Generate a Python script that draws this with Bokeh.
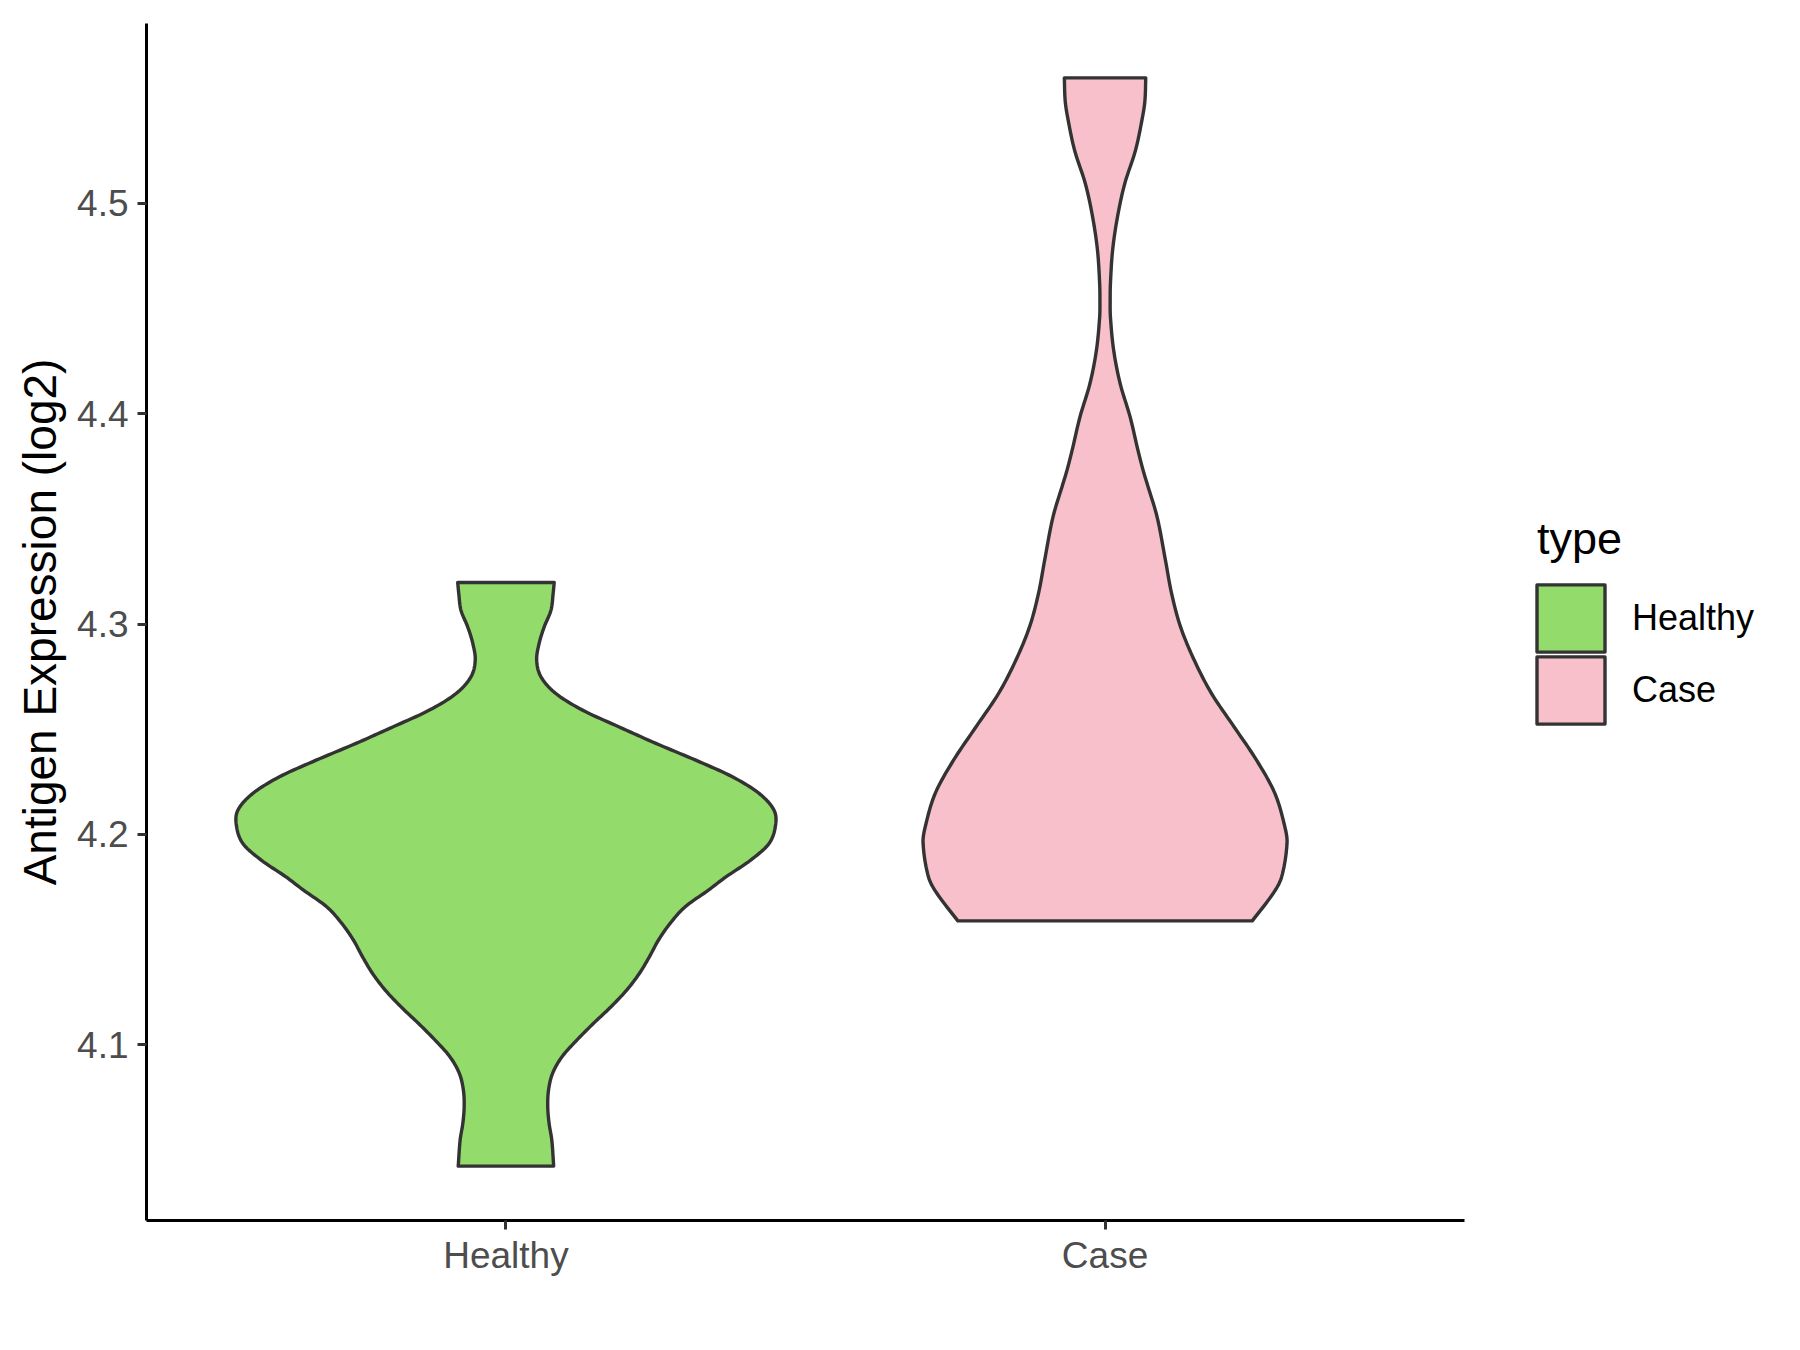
import numpy as np
from bokeh.plotting import figure
from bokeh.layouts import row
from bokeh.models import Range1d, FixedTicker, Legend, LegendItem
from bokeh.embed import file_html
from bokeh.resources import INLINE

# ---- data ----
CATEGORIES = ["Healthy", "Case"]
FILL_COLORS = ["#93DB6B", "#F7C0CB"]

# violin outline: y values and scaled density (max = 1 over both groups)
HEALTHY_Y = [4.3198, 4.3145, 4.3066, 4.2987, 4.2908, 4.2828, 4.2749, 4.2670, 4.2591,
             4.2511, 4.2433, 4.2353, 4.2274, 4.2195, 4.2116, 4.2044, 4.1957, 4.1878,
             4.1798, 4.1735, 4.1656, 4.1577, 4.1498, 4.1418, 4.1339, 4.1260, 4.1181,
             4.1102, 4.1022, 4.0943, 4.0864, 4.0785, 4.0705, 4.0626, 4.0547, 4.0423]
HEALTHY_D = [0.179, 0.175, 0.167, 0.142, 0.123, 0.114, 0.130, 0.185, 0.284,
             0.420, 0.556, 0.704, 0.840, 0.939, 0.994, 1.000, 0.976, 0.908,
             0.816, 0.751, 0.665, 0.609, 0.566, 0.532, 0.495, 0.448, 0.390,
             0.325, 0.263, 0.208, 0.173, 0.158, 0.155, 0.160, 0.170, 0.177]

CASE_Y = [4.5597, 4.5490, 4.5411, 4.5253, 4.5094, 4.4935, 4.4777, 4.4619, 4.4539,
          4.4460, 4.4302, 4.4144, 4.3985, 4.3827, 4.3732, 4.3668, 4.3510, 4.3304,
          4.3145, 4.2987, 4.2828, 4.2670, 4.2511, 4.2353, 4.2195, 4.2036, 4.1957,
          4.1798, 4.1720, 4.1589]
CASE_D = [0.151, 0.148, 0.139, 0.113, 0.073, 0.046, 0.028, 0.020, 0.019,
          0.020, 0.032, 0.056, 0.093, 0.122, 0.141, 0.156, 0.193, 0.224,
          0.247, 0.280, 0.331, 0.395, 0.479, 0.562, 0.630, 0.667, 0.675,
          0.655, 0.624, 0.546]

Y_TICKS = [4.1, 4.2, 4.3, 4.4, 4.5]
Y_TICK_LABELS = ["4.1", "4.2", "4.3", "4.4", "4.5"]
Y_TITLE = "Antigen Expression (log2)"
LEGEND_TITLE = "type"

FONT = "Liberation Sans"
HALF_WIDTH = 0.45  # violin width 0.9
OUTLINE = "#333333"
OUTLINE_W = 3.4


def smooth_outline(y, d, sub=10):
    """Draw a smooth (cubic Hermite) curve through the traced outline samples."""
    y = np.asarray(y, float)
    d = np.asarray(d, float)
    n = len(y)
    m = np.empty(n)
    m[1:-1] = (d[2:] - d[:-2]) / (y[2:] - y[:-2])
    m[0] = (d[1] - d[0]) / (y[1] - y[0])
    m[-1] = (d[-1] - d[-2]) / (y[-1] - y[-2])
    ys, ds = [], []
    for i in range(n - 1):
        h = y[i + 1] - y[i]
        t = np.linspace(0, 1, sub, endpoint=False)
        h00 = 2 * t**3 - 3 * t**2 + 1
        h10 = t**3 - 2 * t**2 + t
        h01 = -2 * t**3 + 3 * t**2
        h11 = t**3 - t**2
        ys.append(y[i] + t * h)
        ds.append(h00 * d[i] + h10 * h * m[i] + h01 * d[i + 1] + h11 * h * m[i + 1])
    ys.append([y[-1]])
    ds.append([d[-1]])
    return np.concatenate(ys), np.clip(np.concatenate(ds), 0, None)


ys_all = HEALTHY_Y + CASE_Y
lo, hi = min(ys_all), max(ys_all)
span = hi - lo

# violin polygons
polys = []
for i, (yv, dv) in enumerate(zip([HEALTHY_Y, CASE_Y], [HEALTHY_D, CASE_D])):
    c = i + 1
    y, d = smooth_outline(yv, dv)
    w = d * HALF_WIDTH
    polys.append((np.concatenate([c - w, (c + w)[::-1]]), np.concatenate([y, y[::-1]])))

TOTAL_W, TOTAL_H = 1790, 1340
MAIN_W = 1474
FRAME_BOTTOM = 1220

p = figure(width=MAIN_W, height=TOTAL_H, output_backend="svg", toolbar_location=None,
           x_range=Range1d(0.4, 2.6),
           y_range=Range1d(lo - 0.05 * span, hi + 0.05 * span),
           min_border_left=146, min_border_right=10,
           min_border_top=23, min_border_bottom=TOTAL_H - FRAME_BOTTOM)
p.grid.visible = False
p.outline_line_color = None
p.background_fill_color = "white"

for (xs, yy), col in zip(polys, FILL_COLORS):
    p.patch(xs, yy, fill_color=col, line_color=OUTLINE, line_width=OUTLINE_W,
            line_join="round")

# x axis
p.xaxis.ticker = FixedTicker(ticks=[i + 1 for i in range(len(CATEGORIES))])
p.xaxis.major_label_overrides = {i + 1: c for i, c in enumerate(CATEGORIES)}
p.xaxis.major_label_standoff = 5
# y axis
p.yaxis.ticker = FixedTicker(ticks=Y_TICKS)
p.yaxis.major_label_overrides = dict(zip(Y_TICKS, Y_TICK_LABELS))
p.yaxis.major_label_standoff = 9
p.yaxis.axis_label = Y_TITLE
p.yaxis.axis_label_text_font = FONT
p.yaxis.axis_label_text_font_size = "46px"
p.yaxis.axis_label_text_font_style = "normal"
p.yaxis.axis_label_text_color = "black"
p.yaxis.axis_label_standoff = 8

for ax in (p.xaxis, p.yaxis):
    ax.axis_line_color = "black"
    ax.axis_line_width = 3
    ax.major_tick_line_color = "#333333"
    ax.major_tick_line_width = 3
    ax.major_tick_out = 9
    ax.major_tick_in = 0
    ax.minor_tick_line_color = None
    ax.major_label_text_font = FONT
    ax.major_label_text_font_size = "37px"
    ax.major_label_text_color = "#4D4D4D"

# ---- legend panel (a second, axis-free figure beside the plot) ----
# its ranges lie away from the violins, so only the legend keys show here
pl = figure(width=TOTAL_W - MAIN_W, height=TOTAL_H, output_backend="svg",
            toolbar_location=None, x_axis_location=None, y_axis_location=None,
            x_range=Range1d(0, 1), y_range=Range1d(0, 1),
            min_border=0, min_border_left=0, min_border_right=0,
            min_border_top=0, min_border_bottom=0)
pl.grid.visible = False
pl.outline_line_color = None
pl.title.visible = False

key_renderers = [pl.patch(xs, yy, fill_color=col, line_color=OUTLINE,
                          line_width=OUTLINE_W, line_join="round")
                 for (xs, yy), col in zip(polys, FILL_COLORS)]
# no data: carries only the legend title (no key is drawn for it)
title_renderer = pl.patch([], [], fill_color=None, line_color=None)

common = dict(
    title_text_font=FONT, title_text_font_size="45px", title_text_font_style="normal",
    title_text_color="black", title_standoff=0,
    label_text_font=FONT, label_text_font_size="36px", label_text_color="black",
    glyph_width=85, glyph_height=84, label_height=84, spacing=0, label_standoff=19,
    padding=0, margin=0, border_line_color=None, background_fill_alpha=0,
)
# plot frames in a row are aligned, so the panel's frame bottom is FRAME_BOTTOM
leg_t = Legend(items=[LegendItem(label="", renderers=[title_renderer])],
               title=LEGEND_TITLE, location=(63, FRAME_BOTTOM - 566),
               **{**common, "glyph_width": 1, "glyph_height": 1, "label_height": 1,
                  "label_standoff": 0})
leg_a = Legend(items=[LegendItem(label=CATEGORIES[0], renderers=[key_renderers[0]])],
               location=(54, FRAME_BOTTOM - 660), **common)
leg_b = Legend(items=[LegendItem(label=CATEGORIES[1], renderers=[key_renderers[1]])],
               location=(54, FRAME_BOTTOM - 732), **common)
pl.add_layout(leg_t)
pl.add_layout(leg_a)
pl.add_layout(leg_b)

layout = row(p, pl)
open("out.html", "w").write(file_html(layout, INLINE))
